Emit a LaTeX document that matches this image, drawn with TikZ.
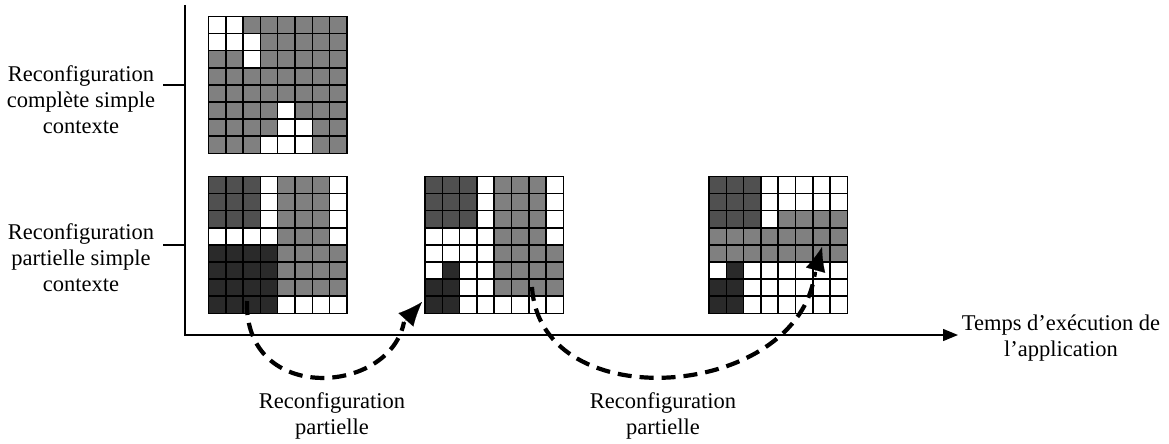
\documentclass[tikz,border=0pt]{standalone}
\usepackage{fontspec}
\setmainfont{Liberation Serif}
\usetikzlibrary{arrows.meta}
\definecolor{cw}{RGB}{255,255,255}
\definecolor{cg}{RGB}{128,128,128}
\definecolor{cd}{RGB}{80,80,80}
\definecolor{ck}{RGB}{42,42,42}
\tikzset{
  lab/.style={align=center, font=\fontsize{22.5}{26}\selectfont, inner sep=0pt},
  axisline/.style={line width=1.4pt, line join=miter},
  flow/.style={line width=4.2pt, dash pattern=on 14pt off 8pt},
  flowtip/.style={-{Latex[length=24pt,width=20pt]}, line width=0.1pt, solid, shorten >=0pt},
  cellbox/.style={draw=black, line width=1.5pt},
}
% 8x8 configuration memory: #1,#2 = top-left corner, #3 = rows of cell colours
\newcommand{\cellgrid}[3]{%
  \foreach \rw [count=\j from 0] in {#3} {
    \foreach \c [count=\i from 0] in \rw {
      \filldraw[cellbox, fill=c\c] ({#1+\i*17.3},{#2+\j*17.1}) rectangle ++(17.3,17.1);
    }
  }
}
\begin{document}
\begin{tikzpicture}[x=1pt,y=-1pt]
\useasboundingbox (0,0) rectangle (1169,444);

% axes
\coordinate (ytop) at (185,5);
\coordinate (O) at (185,335);
\coordinate (xend) at (958,335);
\draw[axisline, -{Triangle[length=15pt,width=12pt]}] (ytop) -- (O) -- (xend);
\coordinate (t1) at (185,85);
\coordinate (t1l) at (163,85);
\coordinate (t2) at (185,245);
\coordinate (t2l) at (163,245);
\draw[axisline] (t1l) -- (t1);
\draw[axisline] (t2l) -- (t2);

% axis labels
\node[lab] (lcomp) at (81,100) {Reconfiguration\\complète simple\\contexte};
\node[lab] (lpart) at (81,258) {Reconfiguration\\partielle simple\\contexte};
\node[lab] (ltime) at (1061,338) {Temps d’exécution de\\l’application};

% full reconfiguration
\cellgrid{208.5}{16.5}{{w,w,g,g,g,g,g,g},{w,w,w,g,g,g,g,g},{g,g,w,g,g,g,g,g},{g,g,g,g,g,g,g,g},
  {g,g,g,g,g,g,g,g},{g,g,g,g,w,g,g,g},{g,g,g,g,w,w,g,g},{g,g,g,w,w,w,g,g}}

% partial reconfiguration, three successive states
\cellgrid{208.5}{176.5}{{d,d,d,w,g,g,g,w},{d,d,d,w,g,g,g,w},{d,d,d,w,g,g,g,w},{w,w,w,w,g,g,g,w},
  {k,k,k,k,g,g,g,g},{k,k,k,k,g,g,g,g},{k,k,k,k,g,g,g,g},{k,k,k,k,w,w,w,w}}
\cellgrid{425}{176.5}{{d,d,d,w,g,g,g,w},{d,d,d,w,g,g,g,w},{d,d,d,w,g,g,g,w},{w,w,w,w,g,g,g,w},
  {w,w,w,w,g,g,g,g},{w,k,w,w,g,g,g,g},{k,k,w,w,g,g,g,g},{k,k,w,w,w,w,w,w}}
\cellgrid{709}{176.5}{{d,d,d,w,w,w,w,w},{d,d,d,w,w,w,w,w},{d,d,d,w,g,g,g,g},{g,g,g,g,g,g,g,g},
  {g,g,g,g,g,g,g,g},{w,k,w,w,w,w,w,w},{k,k,w,w,w,w,w,w},{k,k,w,w,w,w,w,w}}

% reconfiguration steps: dashed curve, then a solid head on its last stretch
\coordinate (s1) at (247,301);
\coordinate (e1) at (422,302);
\coordinate (h1) at (404,322);
\coordinate (s2) at (532,287);
\coordinate (e2) at (822,247);
\coordinate (h2) at (815,272);
\draw[flow] (s1) .. controls (244,405) and (390,395) .. (h1);
\draw[flowtip] (h1) -- (e1);
\draw[flow] (s2) .. controls (540,420) and (800,400) .. (h2);
\draw[flowtip] (h2) -- (e2);

\node[lab] (r1) at (332,416) {Reconfiguration\\partielle};
\node[lab] (r2) at (663,416) {Reconfiguration\\partielle};
\end{tikzpicture}
\end{document}
